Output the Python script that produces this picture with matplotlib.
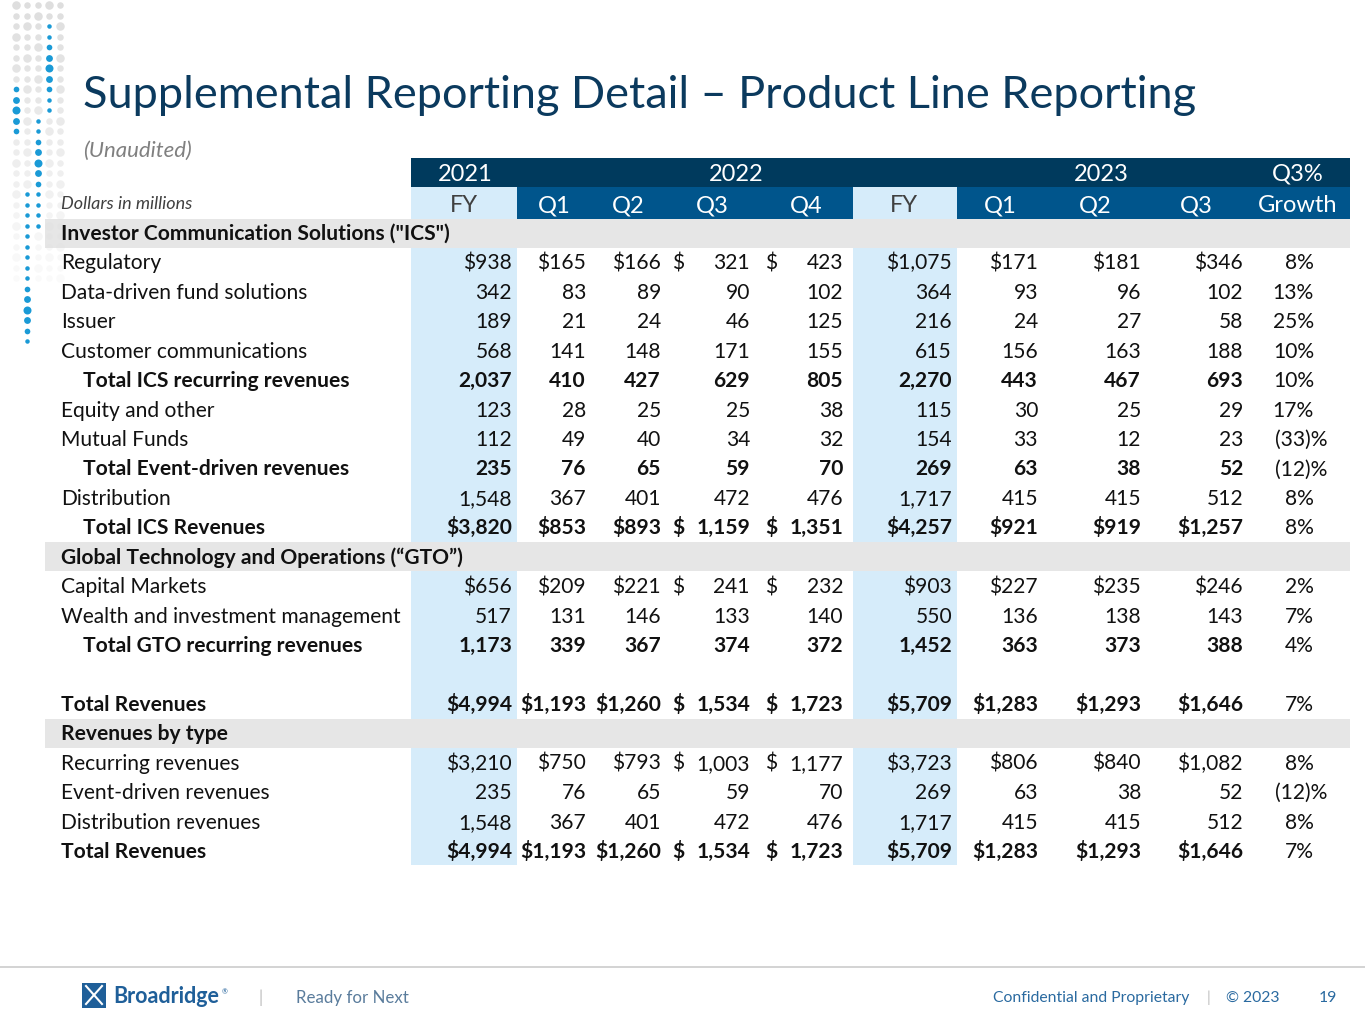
import numpy as np
import matplotlib.pyplot as plt
from matplotlib.patches import Rectangle

plt.rcParams['font.family'] = ['Lato', 'DejaVu Sans']

# Row labels and the kind of each row
labels = ['Investor Communication Solutions ("ICS")', 'Regulatory', 'Data-driven fund solutions',
          'Issuer', 'Customer communications', 'Total ICS recurring revenues', 'Equity and other',
          'Mutual Funds', 'Total Event-driven revenues', 'Distribution', 'Total ICS Revenues',
          'Global Technology and Operations (\u201cGTO\u201d)', 'Capital Markets',
          'Wealth and investment management', 'Total GTO recurring revenues', '',
          'Total Revenues', 'Revenues by type', 'Recurring revenues', 'Event-driven revenues',
          'Distribution revenues', 'Total Revenues']
kinds = ['section', 'item', 'item', 'item', 'item', 'subtotal', 'item', 'item', 'subtotal',
         'item', 'subtotal', 'section', 'item', 'item', 'subtotal', 'blank', 'total',
         'section', 'item', 'item', 'item', 'total']
dollar_rows = [1, 10, 12, 16, 18, 21]

# Values (dollars in millions), None for section / blank rows
fy2021 = [None, 938, 342, 189, 568, 2037, 123, 112, 235, 1548, 3820, None, 656, 517, 1173, None, 4994, None, 3210, 235, 1548, 4994]
q1_2022 = [None, 165, 83, 21, 141, 410, 28, 49, 76, 367, 853, None, 209, 131, 339, None, 1193, None, 750, 76, 367, 1193]
q2_2022 = [None, 166, 89, 24, 148, 427, 25, 40, 65, 401, 893, None, 221, 146, 367, None, 1260, None, 793, 65, 401, 1260]
q3_2022 = [None, 321, 90, 46, 171, 629, 25, 34, 59, 472, 1159, None, 241, 133, 374, None, 1534, None, 1003, 59, 472, 1534]
q4_2022 = [None, 423, 102, 125, 155, 805, 38, 32, 70, 476, 1351, None, 232, 140, 372, None, 1723, None, 1177, 70, 476, 1723]
fy2022 = [None, 1075, 364, 216, 615, 2270, 115, 154, 269, 1717, 4257, None, 903, 550, 1452, None, 5709, None, 3723, 269, 1717, 5709]
q1_2023 = [None, 171, 93, 24, 156, 443, 30, 33, 63, 415, 921, None, 227, 136, 363, None, 1283, None, 806, 63, 415, 1283]
q2_2023 = [None, 181, 96, 27, 163, 467, 25, 12, 38, 415, 919, None, 235, 138, 373, None, 1293, None, 840, 38, 415, 1293]
q3_2023 = [None, 346, 102, 58, 188, 693, 29, 23, 52, 512, 1257, None, 246, 143, 388, None, 1646, None, 1082, 52, 512, 1646]
growth = [None, '8%', '13%', '25%', '10%', '10%', '17%', '(33)%', '(12)%', '8%', '8%', None,
          '2%', '7%', '4%', None, '7%', None, '8%', '(12)%', '8%', '7%']

years = ['2021', '2022', '2023', 'Q3%']
periods = ['FY', 'Q1', 'Q2', 'Q3', 'Q4', 'FY', 'Q1', 'Q2', 'Q3', 'Growth']

columns = [fy2021, q1_2022, q2_2022, q3_2022, q4_2022, fy2022, q1_2023, q2_2023, q3_2023]
col_right = [512, 586, 661, 750, 843, 952, 1038, 1141, 1243]
split_dollar = {3: 672, 4: 765}   # columns where "$" sits at the left of the cell

NAVY = '#003a5d'
MID = '#00558c'
LIGHT = '#d6ecfa'
GRAY = '#e6e6e6'
TXT = '#111111'
FS = 15.1

fig = plt.figure(figsize=(13.65, 10.24), dpi=100)
ax = fig.add_axes([0, 0, 1, 1])
ax.set_xlim(0, 1365)
ax.set_ylim(1024, 0)
ax.axis('off')

# decorative dots top-left
xs = [16, 27, 38, 49, 60]
blue = {3: (2, 10), 0: (8, 12), 2: (11, 21), 1: (18, 32)}
big = {3: 6, 0: 10, 2: 15, 1: 29}
for ci, x in enumerate(xs):
    for k in range(33):
        y = 5 + 10.5 * k
        lo, hi = blue.get(ci, (99, -1))
        if lo <= k <= hi:
            d = 4.5 + 3.5 * max(0, 1 - abs(k - big[ci]) / 3)
            ax.scatter(x, y, s=(d * 0.72) ** 2, color='#1a9ad6', lw=0, zorder=3)
        elif k < 27:
            d = 6.5 if (k + ci) % 3 else 8.5
            a = max(0.15, 1 - k / 30)
            ax.scatter(x, y, s=(d * 0.72) ** 2, color='#dedede', alpha=a, lw=0, zorder=2)

# title
ax.text(83, 95, 'Supplemental Reporting Detail \u2013 Product Line Reporting', fontsize=32.5,
        color='#0b3a5e', va='center', ha='left')
ax.text(83, 151, '(Unaudited)', fontsize=16, style='italic', color='#808080', va='center')
ax.text(61, 209, 'Dollars in millions', fontsize=13, style='italic', color='#404040', va='baseline')

row_y = [233 + 29.43 * i for i in range(len(labels))]

# backgrounds
ax.add_patch(Rectangle((411, 158), 939, 29, color=NAVY, lw=0))
ax.add_patch(Rectangle((517, 187), 336, 32, color=MID, lw=0))
ax.add_patch(Rectangle((957, 187), 393, 32, color=MID, lw=0))
ax.add_patch(Rectangle((411, 187), 106, 678, color=LIGHT, lw=0))
ax.add_patch(Rectangle((853, 187), 104, 678, color=LIGHT, lw=0))
for i, k in enumerate(kinds):
    if k == 'section':
        ax.add_patch(Rectangle((45, row_y[i] - 14.5), 1305, 29, color=GRAY, lw=0, zorder=1.5))

# header texts
hfs = 17
for name, xc in zip(years, [465, 736, 1101, 1298]):
    ax.text(xc, 181, name, fontsize=hfs, color='white', ha='center', va='baseline', zorder=4)
for j, (name, xc) in enumerate(zip(periods, [464, 554, 628, 712, 806, 904, 1000, 1095, 1196, 1298])):
    c = '#404040' if name == 'FY' else 'white'
    ax.text(xc, 212, name, fontsize=hfs, color=c, ha='center', va='baseline', zorder=4)

# body
for i, (lab, k) in enumerate(zip(labels, kinds)):
    yb = row_y[i] + 7
    bold = k in ('section', 'subtotal', 'total')
    fw = 'bold' if bold else 'normal'
    x0 = 83 if k == 'subtotal' else 61
    ax.text(x0, yb, lab, fontsize=FS, fontweight=fw, color=TXT, va='baseline', zorder=4)
    if k in ('section', 'blank'):
        continue
    for j, col in enumerate(columns):
        s = f'{col[i]:,}'
        if i in dollar_rows:
            if j in split_dollar:
                ax.text(split_dollar[j], yb, '$', fontsize=FS, fontweight=fw, color=TXT,
                        ha='left', va='baseline', zorder=4)
            else:
                s = '$' + s
        ax.text(col_right[j], yb, s, fontsize=FS, fontweight=fw, color=TXT,
                ha='right', va='baseline', zorder=4)
    g = growth[i]
    ax.text(1327 if g.startswith('(') else 1314, yb, g, fontsize=FS, color=TXT,
            ha='right', va='baseline', zorder=4)

# footer
ax.plot([0, 1365], [967, 967], color='#cccccc', lw=1.2)
ax.add_patch(Rectangle((82, 983), 24, 25, color='#1f5f99', lw=0))
ax.plot([86, 94, 102], [986, 995, 1004], color='white', lw=1.5)
ax.plot([86, 94, 102], [1004, 995, 986], color='white', lw=1.5)
ax.text(113, 1003, 'Broadridge', fontsize=15.5, fontweight='bold', color='#1f5f99', va='baseline')
ax.text(222, 994, '\u00ae', fontsize=5, color='#1f5f99', va='baseline')
ax.text(258, 1003, '|', fontsize=12, color='#bbbbbb', va='baseline')
ax.text(296, 1003, 'Ready for Next', fontsize=12.2, color='#5a7c9c', va='baseline')
ax.text(1189, 1002, 'Confidential and Proprietary', fontsize=11.3, color='#2a6aa0', ha='right', va='baseline')
ax.text(1208, 1002, '|', fontsize=11, color='#bbbbbb', ha='center', va='baseline')
ax.text(1280, 1002, '\u00a9 2023', fontsize=11.3, color='#2a6aa0', ha='right', va='baseline')
ax.text(1337, 1002, '19', fontsize=11.3, color='#2a6aa0', ha='right', va='baseline')

fig.savefig('out.png', dpi=100)
